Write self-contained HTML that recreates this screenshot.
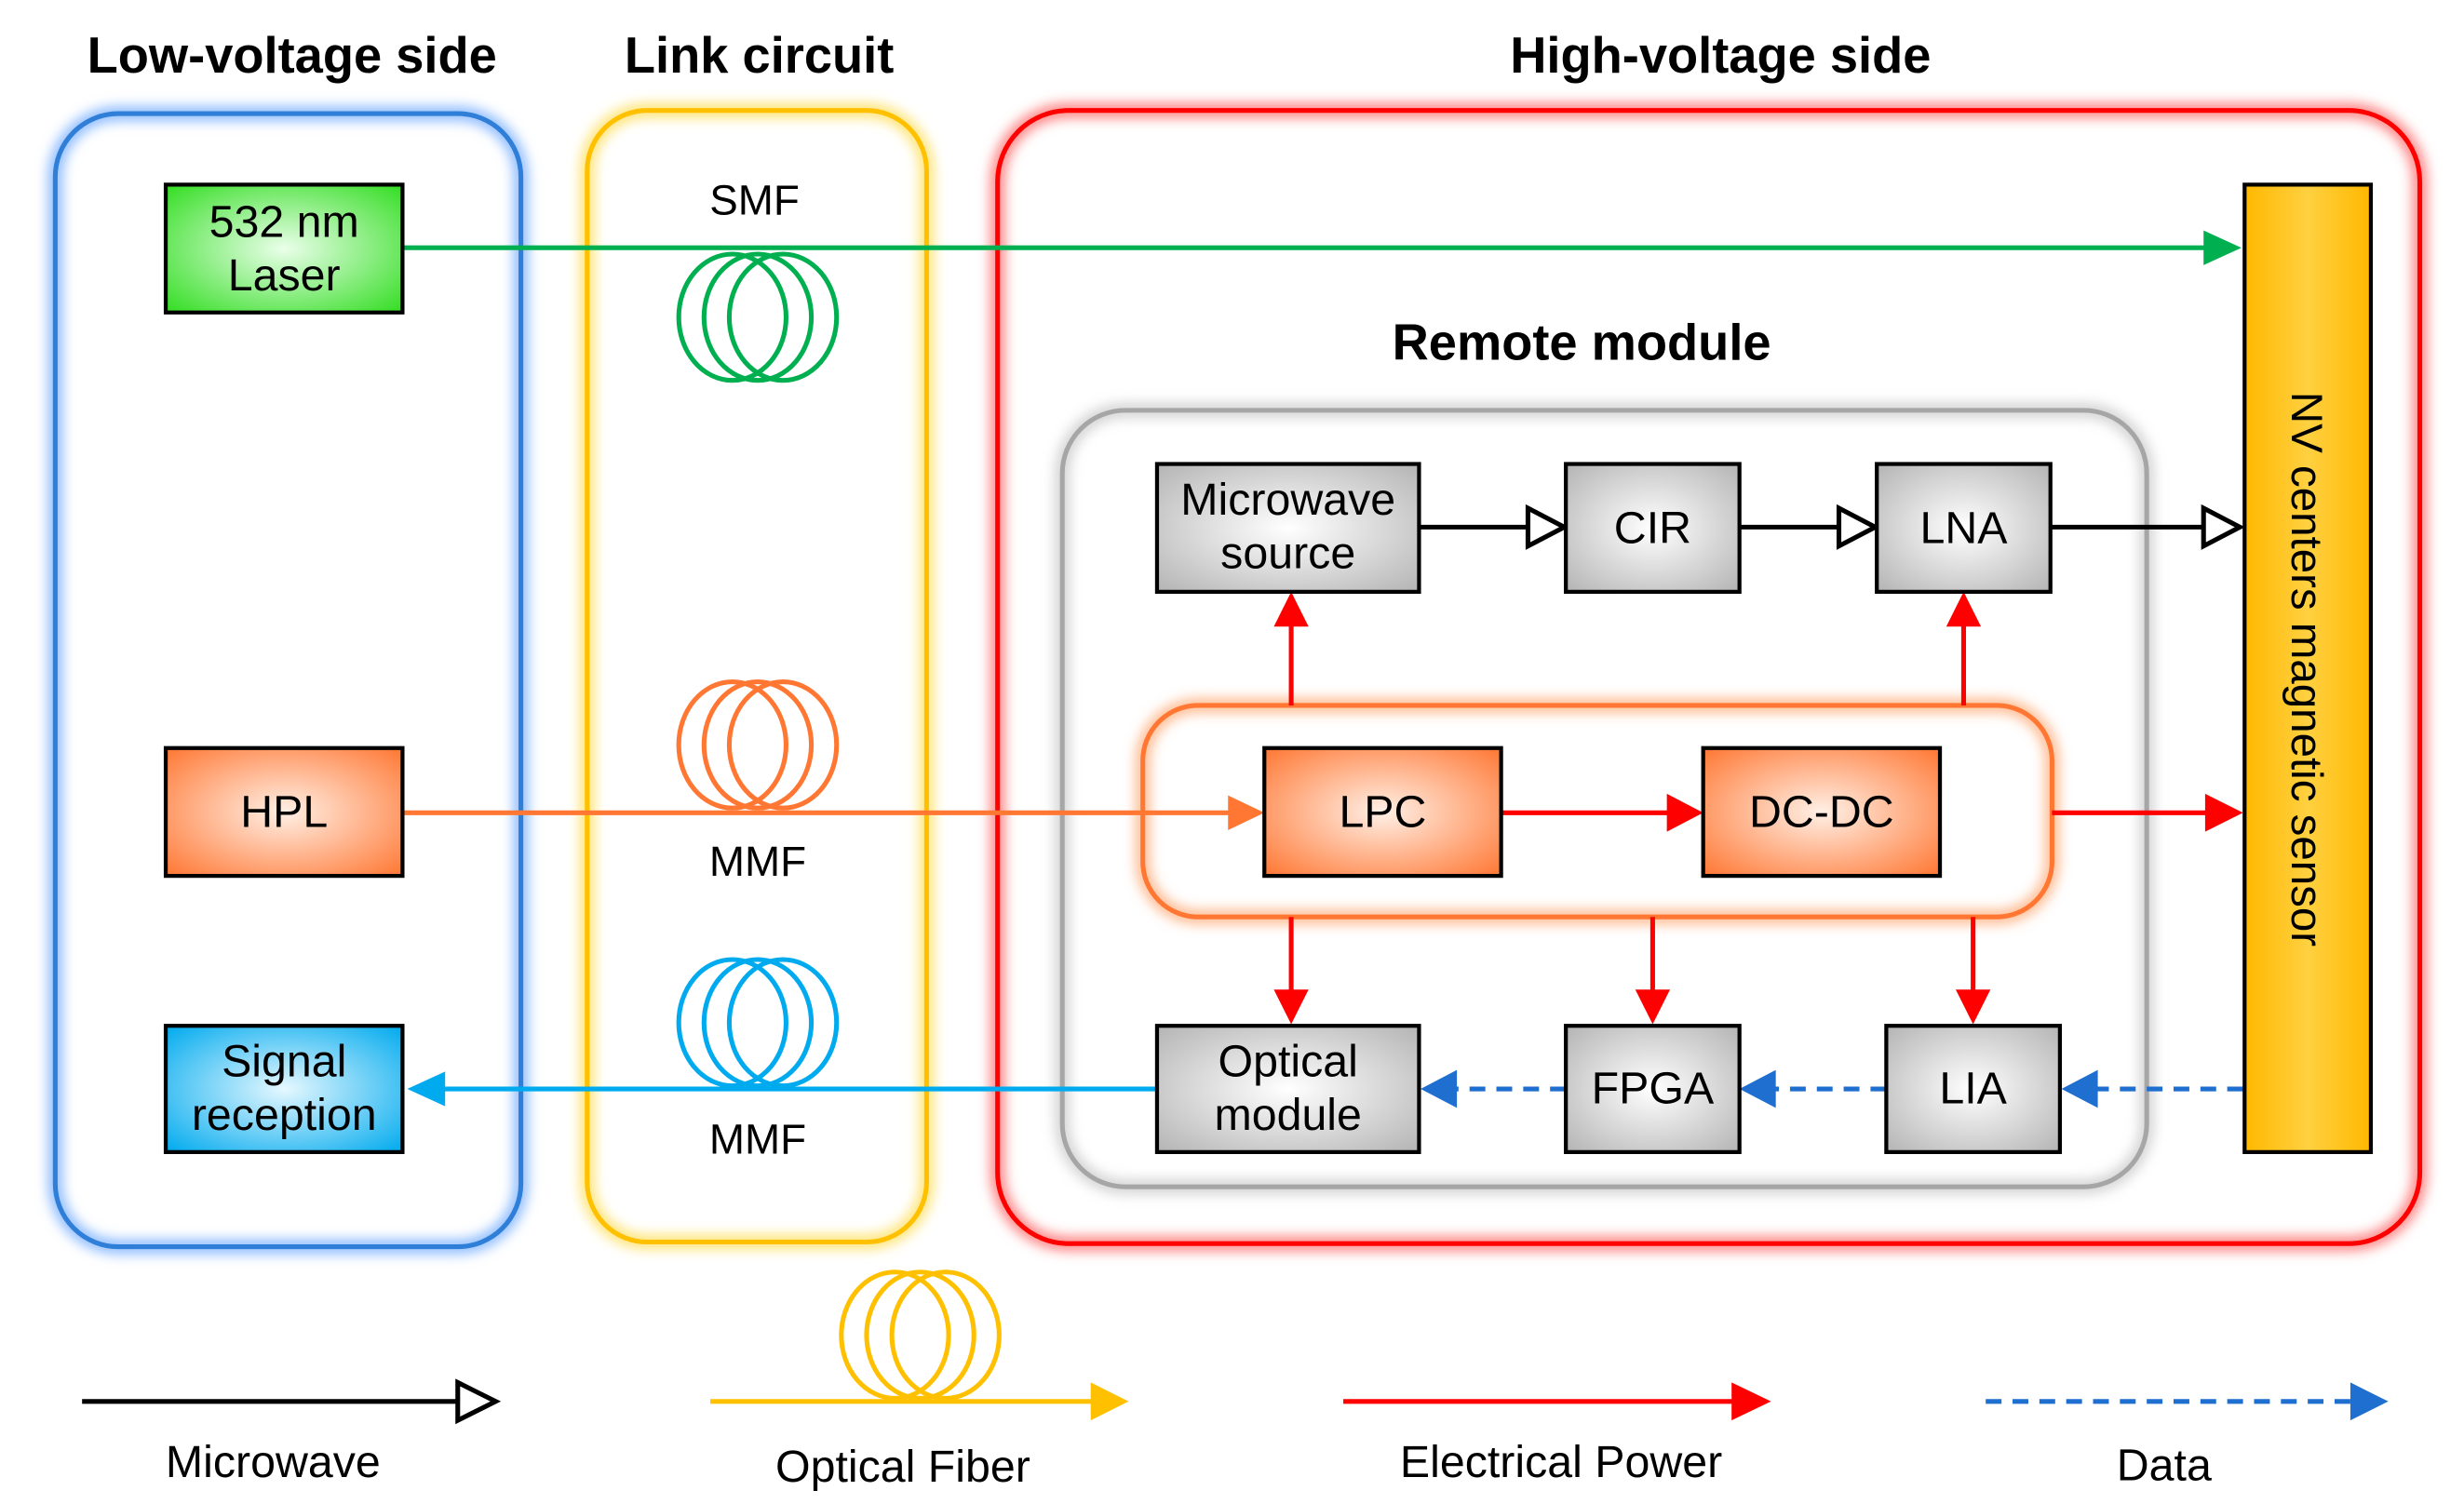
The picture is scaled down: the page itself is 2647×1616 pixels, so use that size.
<!DOCTYPE html>
<html><head><meta charset="utf-8">
<style>
html,body{margin:0;padding:0;background:#fff;}
svg{display:block;}
text{font-family:"Liberation Sans",Arial,sans-serif;}
</style></head>
<body>
<svg width="2647" height="1616" viewBox="0 0 1561 953" preserveAspectRatio="none" xmlns="http://www.w3.org/2000/svg">
<defs>
<filter id="glow" x="-10%" y="-10%" width="120%" height="120%"><feGaussianBlur stdDeviation="4"/></filter>
<radialGradient id="gGreen" cx="50%" cy="50%" r="70%"><stop offset="0" stop-color="#eaffea"/><stop offset="1" stop-color="#33dd22"/></radialGradient>
<radialGradient id="gOrange" cx="50%" cy="50%" r="70%"><stop offset="0" stop-color="#fff0e6"/><stop offset="1" stop-color="#ff7733"/></radialGradient>
<radialGradient id="gBlue" cx="50%" cy="50%" r="70%"><stop offset="0" stop-color="#e6f8ff"/><stop offset="1" stop-color="#00aaee"/></radialGradient>
<radialGradient id="gGray" cx="50%" cy="50%" r="70%"><stop offset="0" stop-color="#ffffff"/><stop offset="1" stop-color="#b4b4b4"/></radialGradient>
<linearGradient id="gNV" x1="0" x2="1"><stop offset="0" stop-color="#ffb800"/><stop offset="0.5" stop-color="#ffd040"/><stop offset="1" stop-color="#ffb800"/></linearGradient>
</defs>

<g font-weight="bold" font-size="32" text-anchor="middle" fill="#000">
<text x="185" y="46">Low-voltage side</text>
<text x="481" y="46">Link circuit</text>
<text x="1090" y="46">High-voltage side</text>
<text x="1002" y="228">Remote module</text>
</g>

<g fill="none">
<rect x="35" y="72" width="295" height="718" rx="40" stroke="#7ab0ff" stroke-width="8" filter="url(#glow)"/>
<rect x="35" y="72" width="295" height="718" rx="40" stroke="#2f7fd8" stroke-width="3"/>
<rect x="372" y="70" width="215" height="717" rx="38" stroke="#ffe060" stroke-width="8" filter="url(#glow)"/>
<rect x="372" y="70" width="215" height="717" rx="38" stroke="#ffc000" stroke-width="3"/>
<rect x="632" y="70" width="901" height="718" rx="45" stroke="#ff7070" stroke-width="8" filter="url(#glow)"/>
<rect x="632" y="70" width="901" height="718" rx="45" stroke="#ff0000" stroke-width="3"/>
<rect x="673" y="260" width="687" height="492" rx="40" stroke="#cccccc" stroke-width="8" filter="url(#glow)"/>
<rect x="673" y="260" width="687" height="492" rx="40" stroke="#a6a6a6" stroke-width="3"/>
<rect x="724" y="447" width="576" height="134" rx="35" stroke="#ffb080" stroke-width="8" filter="url(#glow)"/>
<rect x="724" y="447" width="576" height="134" rx="35" stroke="#ff7733" stroke-width="3"/>
</g>

<g fill="none" stroke-width="3">
<g stroke="#00b050"><ellipse cx="464" cy="201" rx="34" ry="40"/><ellipse cx="480" cy="201" rx="34" ry="40"/><ellipse cx="496" cy="201" rx="34" ry="40"/></g>
<g stroke="#ff7733"><ellipse cx="464" cy="472" rx="34" ry="40"/><ellipse cx="480" cy="472" rx="34" ry="40"/><ellipse cx="496" cy="472" rx="34" ry="40"/></g>
<g stroke="#00aaee"><ellipse cx="464" cy="648" rx="34" ry="40"/><ellipse cx="480" cy="648" rx="34" ry="40"/><ellipse cx="496" cy="648" rx="34" ry="40"/></g>
<g stroke="#ffc000"><ellipse cx="567" cy="846" rx="34" ry="40"/><ellipse cx="583" cy="846" rx="34" ry="40"/><ellipse cx="599" cy="846" rx="34" ry="40"/></g>
</g>
<g font-size="27" text-anchor="middle" fill="#000">
<text x="478" y="136">SMF</text>
<text x="480" y="555">MMF</text>
<text x="480" y="731">MMF</text>
</g>

<line x1="255" y1="157" x2="1398" y2="157" stroke="#00b050" stroke-width="3"/>
<path d="M1396,146 L1420,157 L1396,168z" fill="#00b050"/>
<line x1="255" y1="515" x2="780" y2="515" stroke="#ff7733" stroke-width="3"/>
<path d="M778,504 L801,515 L778,526z" fill="#ff7733"/>
<line x1="733" y1="690" x2="280" y2="690" stroke="#00aaee" stroke-width="3"/>
<path d="M282,679 L258,690 L282,701z" fill="#00aaee"/>

<g stroke="#000" stroke-width="3" fill="#fff">
<line x1="899" y1="334" x2="968" y2="334"/><path d="M968,322 L991,334 L968,346z"/>
<line x1="1102" y1="334" x2="1165" y2="334"/><path d="M1165,322 L1188,334 L1165,346z"/>
<line x1="1299" y1="334" x2="1396" y2="334"/><path d="M1396,322 L1419,334 L1396,346z"/>
</g>

<g stroke="#ff0000" stroke-width="3">
<line x1="818" y1="447" x2="818" y2="395"/><line x1="1244" y1="447" x2="1244" y2="395"/>
<line x1="951" y1="515" x2="1057" y2="515"/><line x1="1300" y1="515" x2="1398" y2="515"/>
<line x1="818" y1="581" x2="818" y2="628"/><line x1="1047" y1="581" x2="1047" y2="628"/><line x1="1250" y1="581" x2="1250" y2="628"/>
</g>
<g fill="#ff0000">
<path d="M807,397 L818,375 L829,397z"/><path d="M1233,397 L1244,375 L1255,397z"/>
<path d="M1056,503 L1079,515 L1056,527z"/><path d="M1397,503 L1421,515 L1397,527z"/>
<path d="M807,627 L818,649 L829,627z"/><path d="M1036,627 L1047,649 L1058,627z"/><path d="M1239,627 L1250,649 L1261,627z"/>
</g>

<g stroke="#1f6fd0" stroke-width="3" stroke-dasharray="10,7">
<line x1="1421" y1="690" x2="1328" y2="690"/><line x1="1195" y1="690" x2="1124" y2="690"/><line x1="992" y1="690" x2="922" y2="690"/>
</g>
<g fill="#1f6fd0">
<path d="M1329,678 L1306,690 L1329,702z"/><path d="M1125,678 L1102,690 L1125,702z"/><path d="M923,678 L900,690 L923,702z"/>
</g>

<g stroke="#000" stroke-width="2.5">
<rect x="105" y="117" width="150" height="81" fill="url(#gGreen)"/>
<rect x="105" y="474" width="150" height="81" fill="url(#gOrange)"/>
<rect x="105" y="650" width="150" height="80" fill="url(#gBlue)"/>
<rect x="1422" y="117" width="80" height="613" fill="url(#gNV)"/>
<rect x="733" y="294" width="166" height="81" fill="url(#gGray)"/>
<rect x="992" y="294" width="110" height="81" fill="url(#gGray)"/>
<rect x="1189" y="294" width="110" height="81" fill="url(#gGray)"/>
<rect x="801" y="474" width="150" height="81" fill="url(#gOrange)"/>
<rect x="1079" y="474" width="150" height="81" fill="url(#gOrange)"/>
<rect x="733" y="650" width="166" height="80" fill="url(#gGray)"/>
<rect x="992" y="650" width="110" height="80" fill="url(#gGray)"/>
<rect x="1195" y="650" width="110" height="80" fill="url(#gGray)"/>
</g>
<g font-size="28.5" text-anchor="middle" fill="#000">
<text x="180" y="150">532 nm</text><text x="180" y="184">Laser</text>
<text x="180" y="524">HPL</text>
<text x="180" y="682">Signal</text><text x="180" y="716">reception</text>
<text x="816" y="326">Microwave</text><text x="816" y="360">source</text>
<text x="1047" y="344">CIR</text>
<text x="1244" y="344">LNA</text>
<text x="876" y="524">LPC</text>
<text x="1154" y="524">DC-DC</text>
<text x="816" y="682">Optical</text><text x="816" y="716">module</text>
<text x="1047" y="699">FPGA</text>
<text x="1250" y="699">LIA</text>
<text transform="translate(1452,424) rotate(90)" font-size="28">NV centers magnetic sensor</text>
</g>

<line x1="52" y1="888" x2="290" y2="888" stroke="#000" stroke-width="3"/>
<path d="M290,876 L314,888 L290,900z" fill="#fff" stroke="#000" stroke-width="3"/>
<line x1="450" y1="888" x2="692" y2="888" stroke="#ffc000" stroke-width="3"/>
<path d="M691,876 L715,888 L691,900z" fill="#ffc000"/>
<line x1="851" y1="888" x2="1098" y2="888" stroke="#ff0000" stroke-width="3"/>
<path d="M1097,876 L1122,888 L1097,900z" fill="#ff0000"/>
<line x1="1258" y1="888" x2="1490" y2="888" stroke="#1f6fd0" stroke-width="3" stroke-dasharray="10,7"/>
<path d="M1489,876 L1513,888 L1489,900z" fill="#1f6fd0"/>
<g font-size="28.5" text-anchor="middle" fill="#000">
<text x="173" y="936">Microwave</text>
<text x="572" y="939">Optical Fiber</text>
<text x="989" y="936">Electrical Power</text>
<text x="1371" y="938">Data</text>
</g>
</svg>
</body></html>
